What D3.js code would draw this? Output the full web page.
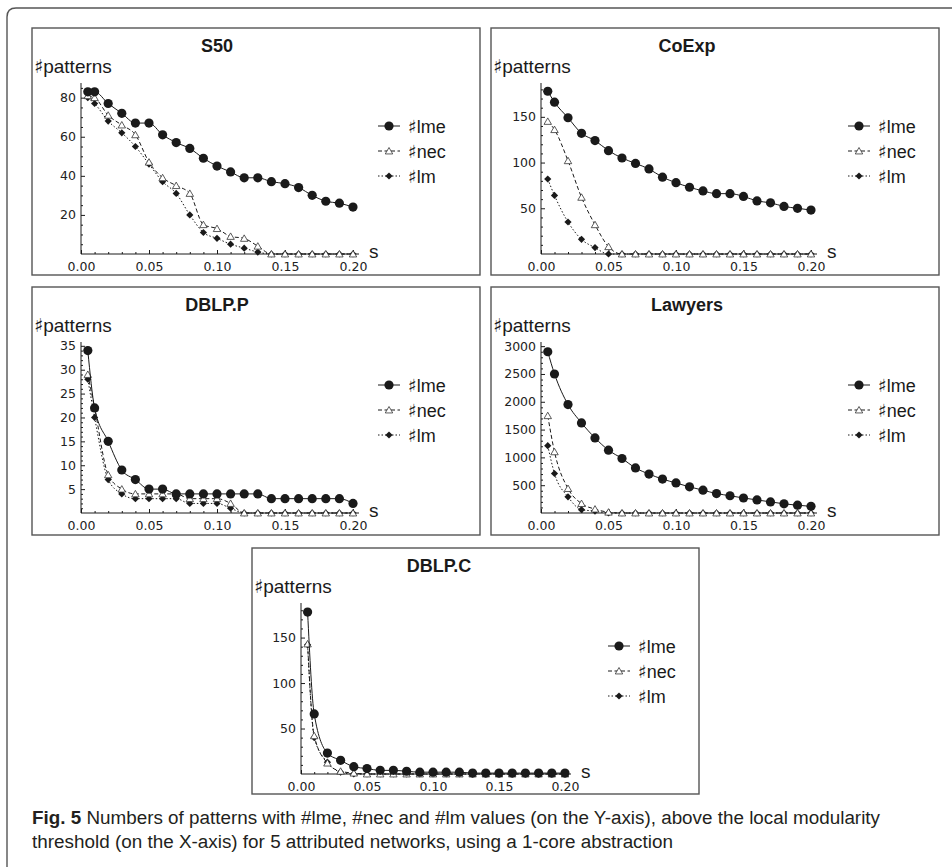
<!DOCTYPE html>
<html><head><meta charset="utf-8">
<script src="https://cdn.jsdelivr.net/npm/d3@7/dist/d3.min.js"></script>
<style>body{margin:0;background:#fff}</style>
</head><body>
<svg id="c" width="952" height="867"></svg>
<script>
// ---------- data ----------
const xValues = [0.005,0.01,0.02,0.03,0.04,0.05,0.06,0.07,0.08,0.09,0.10,0.11,0.12,0.13,0.14,0.15,0.16,0.17,0.18,0.19,0.20];
const xTicks = [0,0.05,0.10,0.15,0.20];
const xMinorTicks = [0.01,0.02,0.03,0.04,0.06,0.07,0.08,0.09,0.11,0.12,0.13,0.14,0.16,0.17,0.18,0.19];
const seriesNames = ["lme","nec","lm"];
const panelTitles = ["S50","CoExp","DBLP.P","Lawyers","DBLP.C"];

const s50Lme = [83,83,77,72,67,67,61,57,54,49,45,42,39,39,37,36,34,30,27,26,24];
const s50Nec = [81,80,71,66,61,47,39,35,31,15,13,9,8,4,0,0,0,0,0,0,0];
const s50Lm  = [80,77,68,62,55,46,37,31,20,11,8,5,3,1,0,0,0,0,0,0,0];
const s50YTicks = [20,40,60,80];

const coexpLme = [178,166,149,132,124,113,105,99,93,84,78,73,69,66,66,63,58,56,52,50,48];
const coexpNec = [145,136,102,62,32,8,0,0,0,0,0,0,0,0,0,0,0,0,0,0,0];
const coexpLm  = [82,64,35,16,7,0,0,0,0,0,0,0,0,0,0,0,0,0,0,0,0];
const coexpYTicks = [50,100,150];

const dblppLme = [34,22,15,9,7,5,5,4,4,4,4,4,4,4,3,3,3,3,3,3,2];
const dblppNec = [29,22,8,5,4,4,4,4,3,3,3,2,0,0,0,0,0,0,0,0,0];
const dblppLm  = [28,20,7,4,3,3,3,3,2,2,2,1,0,0,0,0,0,0,0,0,0];
const dblppYTicks = [5,10,15,20,25,30,35];

const lawyersLme = [2900,2500,1950,1620,1350,1130,980,810,700,610,540,470,410,350,310,270,235,200,165,140,120];
const lawyersNec = [1750,1100,440,170,70,15,0,0,0,0,0,0,0,0,0,0,0,0,0,0,0];
const lawyersLm  = [1210,710,290,60,35,0,0,0,0,0,0,0,0,0,0,0,0,0,0,0,0];
const lawyersYTicks = [500,1000,1500,2000,2500,3000];

const dblpcLme = [178,66,23,15,8,6,4,4,3,2,2,2,2,1,1,1,1,1,1,1,1];
const dblpcNec = [143,42,12,3,1,0,0,0,0,0,0,0,0,0,0,0,0,0,0,0,0];
const dblpcLm  = [142,40,13,2,0,0,0,0,0,0,0,0,0,0,0,0,0,0,0,0,0];
const dblpcYTicks = [50,100,150];

const yTops = [87.5,187,35.8,3075,188];
const yMinorSteps = [5,10,1,100,10];

const captionBold = "Fig. 5";
const captionLine1 = " Numbers of patterns with #lme, #nec and #lm values (on the Y-axis), above the local modularity";
const captionLine2 = "threshold (on the X-axis) for 5 attributed networks, using a 1-core abstraction";

// ---------- layout ----------
const panelData = [
  {lme:s50Lme, nec:s50Nec, lm:s50Lm, yt:s50YTicks},
  {lme:coexpLme, nec:coexpNec, lm:coexpLm, yt:coexpYTicks},
  {lme:dblppLme, nec:dblppNec, lm:dblppLm, yt:dblppYTicks},
  {lme:lawyersLme, nec:lawyersNec, lm:lawyersLm, yt:lawyersYTicks},
  {lme:dblpcLme, nec:dblpcNec, lm:dblpcLm, yt:dblpcYTicks}
];
const boxes = [
  {bx:32, by:28, w:448, h:247, pl:49, pr:321, legX:346, tx:185},
  {bx:491, by:28, w:448, h:247, pl:50, pr:320, legX:357, tx:196},
  {bx:32, by:287, w:448, h:248, pl:49, pr:321, legX:346, tx:185},
  {bx:491, by:287, w:448, h:248, pl:50, pr:320, legX:357, tx:196},
  {bx:252, by:548, w:447, h:246, pl:49, pr:313, legX:356, tx:187}
];

const svg = d3.select("#c");
const ink = "#1a1a1a";
const frame = "#555";
const sharpFont = "DejaVu Sans, sans-serif";
const labelFont = "Liberation Sans, Arial, sans-serif";

// outer frame
svg.append("path")
  .attr("d","M7,867 V17 Q7,8 16,8 H952")
  .attr("fill","none").attr("stroke",frame).attr("stroke-width",1.4);

const seriesStyle = {
  lme: {dash:null, sym:"circle"},
  nec: {dash:"4,2.5", sym:"triangle"},
  lm:  {dash:"1.5,2", sym:"diamond"}
};

function drawMarker(sel, kind, cx, cy){
  if(kind==="circle"){
    sel.append("circle").attr("cx",cx).attr("cy",cy).attr("r",4.6).attr("fill",ink);
  } else if(kind==="triangle"){
    sel.append("path").attr("d",d3.symbol(d3.symbolTriangle,24)())
      .attr("transform",`translate(${cx},${cy+0.8})`)
      .attr("fill","#fff").attr("stroke","#333").attr("stroke-width",0.8);
  } else {
    sel.append("path").attr("d",d3.symbol(d3.symbolSquare,26)())
      .attr("transform",`translate(${cx},${cy}) rotate(45)`)
      .attr("fill",ink);
  }
}

function sharpText(sel, x, y, size, word){
  const t = sel.append("text").attr("x",x).attr("y",y)
    .attr("font-family",labelFont).attr("font-size",size).attr("fill",ink);
  t.append("tspan").attr("font-family",sharpFont).attr("fill",ink).text("\u266F");
  t.append("tspan").text(word);
  return t;
}

boxes.forEach((b,i)=>{
  const d = panelData[i];
  const g = svg.append("g").attr("transform",`translate(${b.bx},${b.by})`);
  g.append("rect").attr("x",0).attr("y",0).attr("width",b.w).attr("height",b.h)
    .attr("fill","none").attr("stroke",frame).attr("stroke-width",1.4);

  const x = d3.scaleLinear().domain([0,0.2]).range([b.pl,b.pr]);
  const y = d3.scaleLinear().domain([0,yTops[i]]).range([226,55]);

  // title
  g.append("text").attr("x",b.tx).attr("y",24).attr("text-anchor","middle")
    .attr("font-family",labelFont).attr("font-weight","bold")
    .attr("font-size",18).attr("fill",ink).text(panelTitles[i]);
  // y label
  sharpText(g, 2, 45, 19, "patterns");

  // x axis
  const xa = g.append("g").attr("transform","translate(0,226)")
    .call(d3.axisBottom(x).tickValues(xTicks).tickFormat(d3.format(".2f"))
      .tickSizeInner(-4).tickSizeOuter(0).tickPadding(8));
  xa.select(".domain").remove();
  const xm = g.append("g").attr("transform","translate(0,226)")
    .call(d3.axisBottom(x).tickValues(xMinorTicks).tickFormat("").tickSizeInner(-2).tickSizeOuter(0));
  xm.select(".domain").remove();
  g.append("line").attr("x1",x(0)).attr("x2",x(0.2)+6).attr("y1",226).attr("y2",226)
    .attr("stroke",ink).attr("stroke-width",1);
  g.append("text").attr("x",x(0.2)+16).attr("y",230)
    .attr("font-family",labelFont)
    .attr("font-size",19).attr("fill",ink).text("s");

  // y axis
  const ya = g.append("g").attr("transform",`translate(${x(0)},0)`)
    .call(d3.axisLeft(y).tickValues(d.yt).tickFormat(d3.format("d"))
      .tickSizeInner(-4).tickSizeOuter(0).tickPadding(5));
  ya.select(".domain").remove();
  const minor = d3.range(yMinorSteps[i], yTops[i], yMinorSteps[i]).filter(v=>!d.yt.includes(v));
  const ym = g.append("g").attr("transform",`translate(${x(0)},0)`)
    .call(d3.axisLeft(y).tickValues(minor).tickFormat("").tickSizeInner(-2).tickSizeOuter(0));
  ym.select(".domain").remove();
  g.append("line").attr("x1",x(0)).attr("x2",x(0)).attr("y1",226).attr("y2",y(yTops[i]))
    .attr("stroke",ink).attr("stroke-width",1);

  g.selectAll(".tick text").attr("font-family","DejaVu Sans, Verdana, sans-serif")
    .attr("font-size",12.5).attr("fill","#222");
  g.selectAll(".tick line").attr("stroke",ink);

  // series
  const line = d3.line().x((v,k)=>x(xValues[k])).y(v=>y(v)).curve(d3.curveMonotoneX);
  ["lm","nec","lme"].forEach(key=>{
    const st = seriesStyle[key];
    g.append("path").attr("d",line(d[key])).attr("fill","none")
      .attr("stroke",ink).attr("stroke-width",1)
      .attr("stroke-dasharray",st.dash);
    const mg = g.append("g");
    d[key].forEach((v,k)=>drawMarker(mg, st.sym, x(xValues[k]), y(v)));
  });

  // legend
  ["lme","nec","lm"].forEach((key,k)=>{
    const st = seriesStyle[key];
    const ly = 98 + k*25;
    g.append("line").attr("x1",b.legX).attr("x2",b.legX+22).attr("y1",ly).attr("y2",ly)
      .attr("stroke",ink).attr("stroke-width",1).attr("stroke-dasharray",st.dash);
    drawMarker(g, st.sym, b.legX+11, ly);
    sharpText(g, b.legX+30, ly+6.5, 18, seriesNames[k]);
  });
});

// caption
const capFont = "Liberation Sans Narrow, Arial Narrow, Liberation Sans, sans-serif";
const cap1 = svg.append("text").attr("x",32).attr("y",824)
  .attr("font-family",capFont)
  .attr("font-size",18).attr("fill","#231f20")
  .attr("textLength",848).attr("lengthAdjust","spacingAndGlyphs");
cap1.append("tspan").attr("font-weight","bold").text(captionBold);
cap1.append("tspan").text(captionLine1);
svg.append("text").attr("x",32).attr("y",848)
  .attr("font-family",capFont)
  .attr("font-size",18).attr("fill","#231f20")
  .attr("textLength",641).attr("lengthAdjust","spacingAndGlyphs")
  .text(captionLine2);
</script>
</body></html>
